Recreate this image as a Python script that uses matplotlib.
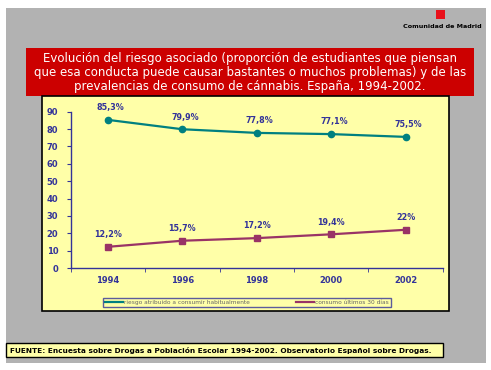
"""
Riesgo percibido y prevalencia de consumo de cannabis, Espana 1994-2002.
"""
import matplotlib
matplotlib.use("Agg")
import matplotlib.pyplot as plt
from matplotlib.patches import Rectangle

W, H = 491, 370

anios = ["1994", "1996", "1998", "2000", "2002"]
riesgo = [85.3, 79.9, 77.8, 77.1, 75.5]
consumo = [12.2, 15.7, 17.2, 19.4, 22.0]
riesgo_txt = ["85,3%", "79,9%", "77,8%", "77,1%", "75,5%"]
consumo_txt = ["12,2%", "15,7%", "17,2%", "19,4%", "22%"]
nombres = ["riesgo atribuido a consumir habitualmente", "consumo últimos 30 días"]

titulo = ("Evolución del riesgo asociado (proporción de estudiantes que piensan\n"
          "que esa conducta puede causar bastantes o muchos problemas) y de las\n"
          "prevalencias de consumo de cánnabis. España, 1994-2002.")
fuente = ("FUENTE: Encuesta sobre Drogas a Población Escolar 1994-2002. "
          "Observatorio Español sobre Drogas.")

NAVY = "#333399"
TEAL = "#008080"
PURPLE = "#993366"
YELLOW = "#FFFFA8"


def caja(x0, y0, x1, y1, **kw):
    # rectangulo en pixeles (origen arriba a la izquierda)
    r = Rectangle((x0 / W, 1 - y1 / H), (x1 - x0) / W, (y1 - y0) / H,
                  transform=fig.transFigure, **kw)
    fig.patches.append(r)


fig = plt.figure(figsize=(W / 100, H / 100), dpi=100)
fig.patch.set_facecolor("white")

caja(6, 8, 486, 363, facecolor="#B2B2B2", edgecolor="none", zorder=0)
# logo
caja(436, 10, 445, 19, facecolor="#E8101A", edgecolor="none", zorder=1)
fig.text(442 / W, 1 - 26.5 / H, "Comunidad de Madrid", fontsize=4.6, weight="bold",
         ha="center", va="center", color="black")

# titulo
caja(26, 48, 474, 96, facecolor="#CC0000", edgecolor="none", zorder=1)
fig.text(250 / W, 1 - 72.5 / H, titulo, fontsize=8.45, color="white", ha="center",
         va="center", linespacing=1.12, zorder=3)

# panel amarillo
caja(42, 96, 449, 311, facecolor=YELLOW, edgecolor="black", linewidth=1.2, zorder=1)

# fuente
caja(6, 343, 443, 357, facecolor=YELLOW, edgecolor="black", linewidth=1, zorder=1)
fig.text(10 / W, 1 - 350 / H, fuente, fontsize=5.3, weight="bold", ha="left",
         va="center", color="black")

# grafico
x0, x1, ytop, ybot = 70.7, 442.7, 111.7, 268
ax = fig.add_axes([x0 / W, 1 - ybot / H, (x1 - x0) / W, (ybot - ytop) / H])
ax.set_facecolor("none")
ax.set_zorder(2)
pos = list(range(len(anios)))
l1, = ax.plot(pos, riesgo, color=TEAL, lw=1.6, marker="o", ms=4.5, label=nombres[0])
l2, = ax.plot(pos, consumo, color=PURPLE, lw=1.6, marker="s", ms=4.5, label=nombres[1])
for p, v, t in zip(pos, riesgo, riesgo_txt):
    ax.annotate(t, (p, v), xytext=(2, 7), textcoords="offset points", ha="center",
                fontsize=5.8, color=NAVY, weight="bold")
for p, v, t in zip(pos, consumo, consumo_txt):
    ax.annotate(t, (p, v), xytext=(0, 7), textcoords="offset points", ha="center",
                fontsize=5.8, color=NAVY, weight="bold")

ax.set_xlim(-0.5, len(anios) - 0.5)
ax.set_ylim(0, 90)
ax.set_yticks(range(0, 91, 10))
ax.set_xticks(pos)
ax.set_xticklabels(anios)
ax.set_xticks([p - 0.5 for p in range(len(anios) + 1)], minor=True)
ax.tick_params(axis="x", which="major", length=0, pad=6, labelsize=6, labelcolor=NAVY)
ax.tick_params(axis="x", which="minor", length=3, color=NAVY, direction="out")
ax.tick_params(axis="y", length=3, color=NAVY, labelsize=6, labelcolor=NAVY, pad=6)
for lab in ax.get_xticklabels() + ax.get_yticklabels():
    lab.set_fontweight("bold")
for s in ["top", "right"]:
    ax.spines[s].set_visible(False)
for s in ["left", "bottom"]:
    ax.spines[s].set_color(NAVY)
    ax.spines[s].set_linewidth(1)

leg = fig.legend(handles=[l1, l2], loc="center", ncol=2,
                 bbox_to_anchor=(98 / W, 1 - 309 / H, 298 / W, 13 / H),
                 fontsize=4.2, frameon=True, fancybox=False, handlelength=3,
                 handletextpad=0.2, columnspacing=8, borderpad=0.3,
                 labelcolor="#666666")
leg.get_frame().set_edgecolor(NAVY)
leg.get_frame().set_facecolor(YELLOW)
leg.get_frame().set_linewidth(1)
for h in leg.legend_handles:
    h.set_marker("")

fig.savefig("out.png", dpi=100)
